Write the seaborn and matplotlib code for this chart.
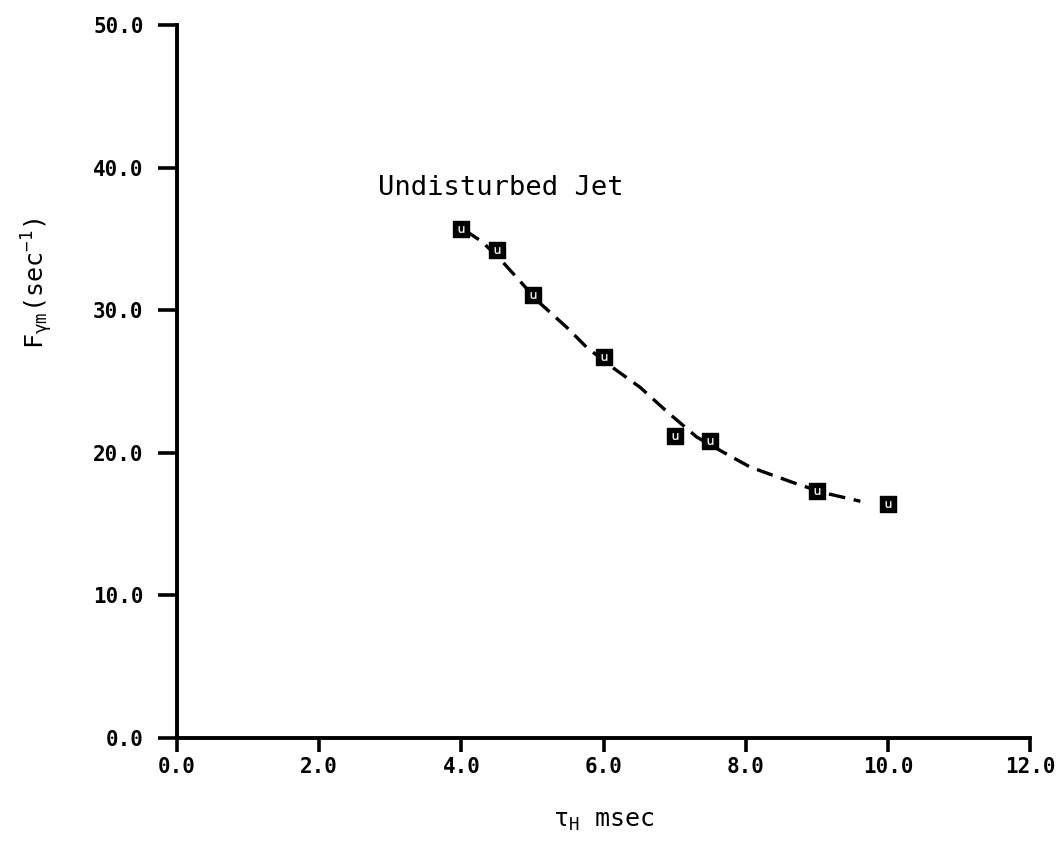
import matplotlib
matplotlib.use("Agg")
import matplotlib.pyplot as plt
import seaborn as sns
import pandas as pd

# Measured points
tau_h = [4.0, 4.5, 5.0, 6.0, 7.0, 7.5, 9.0, 10.0]
f_ym = [35.7, 34.2, 31.1, 26.7, 21.2, 20.85, 17.3, 16.4]

# Hand-drawn faired curve
curve_x = [4.05, 4.29, 4.54, 4.83, 5.08, 5.48, 5.76, 6.12, 6.51, 6.91, 7.31, 7.66, 8.06, 8.67, 9.09, 9.61]
curve_y = [35.6, 34.8, 33.6, 32.0, 30.6, 28.8, 27.4, 26.0, 24.6, 22.8, 21.1, 20.1, 19.0, 17.9, 17.2, 16.6]

x_ticks = [0.0, 2.0, 4.0, 6.0, 8.0, 10.0, 12.0]
y_ticks = [0.0, 10.0, 20.0, 30.0, 40.0, 50.0]

sns.set_theme(style="white")
plt.rcParams["font.family"] = ["DejaVu Sans Mono", "DejaVu Sans"]
plt.rcParams["mathtext.fontset"] = "custom"
plt.rcParams["mathtext.rm"] = "DejaVu Sans Mono"
plt.rcParams["mathtext.it"] = "DejaVu Sans Mono"
plt.rcParams["mathtext.bf"] = "DejaVu Sans Mono:bold"
plt.rcParams["text.color"] = "black"

fig = plt.figure(figsize=(10.6, 8.44), dpi=100)
ax = fig.add_axes([0.167, 0.1256, 0.805, 0.8448])

pts = pd.DataFrame({"tau": tau_h, "f": f_ym})
crv = pd.DataFrame({"tau": curve_x, "f": curve_y})

sns.lineplot(data=crv, x="tau", y="f", ax=ax, color="black", lw=2.4,
             sort=False)
ax.lines[-1].set_dashes([5, 2.6])
sns.scatterplot(data=pts, x="tau", y="f", ax=ax, marker="s", s=140,
                color="black", edgecolor="black", linewidth=1, zorder=5)
sns.scatterplot(data=pts, x="tau", y="f", ax=ax, marker=r"$\mathsf{u}$", s=24,
                color="white", edgecolor="white", linewidth=0.2, zorder=6)

ax.text(2.83, 38.6, "Undisturbed Jet", fontsize=19.5, color="black",
        family="DejaVu Sans Mono", ha="left", va="center")

ax.set_xlim(0, 12)
ax.set_ylim(0, 50)
ax.set_xticks(x_ticks)
ax.set_yticks(y_ticks)
ax.set_xticklabels([f"{v:.1f}" for v in x_ticks], fontsize=15, fontweight="bold",
                   color="black")
ax.set_yticklabels([f"{v:.1f}" for v in y_ticks], fontsize=15, fontweight="bold",
                   color="black")

sns.despine(ax=ax)
for s in ["left", "bottom"]:
    ax.spines[s].set_linewidth(2.8)
    ax.spines[s].set_color("black")
ax.tick_params(axis="both", direction="out", width=2.6, color="black",
               left=True, bottom=True)
ax.tick_params(axis="x", length=10, pad=4)
ax.tick_params(axis="y", length=14, pad=10)

ax.set_xlabel(r"$\tau_{\mathrm{H}}$ msec", fontsize=18, color="black")
ax.xaxis.set_label_coords(0.5, -0.1)
ax.set_ylabel(r"F$_{\gamma\mathrm{m}}$(sec$^{-1}$)", fontsize=18, color="black")
ax.yaxis.set_label_coords(-0.143, 0.638)

ax.set_facecolor("white")
fig.patch.set_facecolor("white")
fig.savefig("out.png", dpi=100)
